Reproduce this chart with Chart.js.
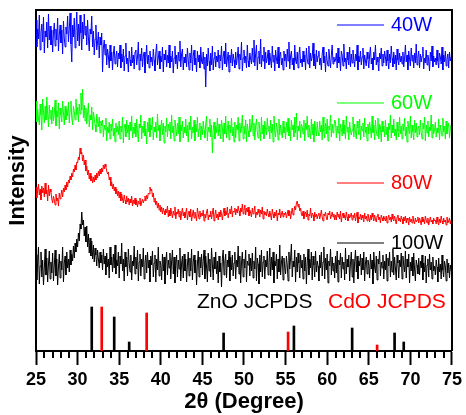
<!DOCTYPE html>
<html><head><meta charset="utf-8">
<script src="https://cdn.jsdelivr.net/npm/chart.js@4/dist/chart.umd.min.js"></script>
<style>html,body{margin:0;padding:0;background:#fff}</style>
</head><body>
<canvas id="c" width="466" height="415"></canvas>
<script>
// 2theta grid: 25..75 in 0.1 degree steps
const START_ANGLE = 25, STEP = 0.1;
const seriesLabels = ['40W', '60W', '80W', '100W'];
const seriesColors = ['#0000ff', '#00ff00', '#ff0000', '#000000'];

// intensities (offset, arbitrary units)
const int40W = [
331,304,322,312,336,301,318,327,309,334,298,320,314,329,303,337,311,325,306,321,
299,318,328,305,322,311,333,300,316,326,308,321,297,330,313,304,324,317,335,309,
322,338,307,289,326,314,333,303,320,339,310,327,305,336,318,301,329,312,337,316,
325,306,331,313,300,322,317,335,304,320,296,312,326,301,309,319,293,314,306,318,
279,303,311,296,307,286,302,295,283,306,290,299,281,297,305,287,294,300,284,298,
292,306,283,297,289,302,280,295,308,287,293,279,300,291,285,304,288,296,282,299,
301,286,294,309,281,297,290,303,284,295,299,278,292,306,287,296,283,300,289,294,
285,302,291,280,298,307,286,293,300,282,295,289,304,279,297,291,301,284,296,288,
306,283,295,289,300,278,293,305,287,296,282,299,290,310,284,297,302,281,294,288,
297,284,303,291,281,298,288,306,280,295,301,286,293,279,300,289,296,283,304,290,
287,299,282,294,264,297,285,303,290,280,298,286,305,281,293,299,284,295,289,301,
283,296,290,305,281,294,300,287,308,284,292,299,279,296,288,302,285,297,291,283,
299,286,294,304,282,297,291,309,280,293,301,288,295,283,306,290,284,298,292,287,
303,289,311,285,297,306,281,294,300,287,312,284,296,290,304,282,299,288,293,301,
286,298,291,283,305,289,296,280,301,292,287,304,283,295,299,286,293,281,300,290,
297,284,302,290,309,282,295,300,286,293,281,306,291,287,299,283,296,304,288,292,
284,300,289,296,281,303,292,287,305,283,298,290,294,308,285,297,282,301,289,295,
300,286,293,281,297,304,288,295,279,299,290,285,302,292,283,296,306,287,294,289,
291,298,283,303,288,294,280,300,296,285,307,289,293,282,299,291,286,304,284,297,
288,301,292,284,297,290,306,281,295,289,300,286,294,303,282,296,290,285,299,292,
283,296,304,287,293,281,299,291,306,286,294,289,280,298,292,303,285,297,288,300,
294,285,301,290,282,297,288,305,293,284,299,287,296,281,302,291,286,298,289,295,
287,299,284,293,306,289,296,281,300,292,285,303,290,296,283,298,288,307,286,294,
300,283,297,289,295,304,282,293,288,301,286,296,291,280,299,290,305,284,295,289,
293,286,301,290,283,298,294,287,304,281,296,289,300,285,292,297,283,299,290,294,
291];
const int60W = [
250,229,242,233,226,247,236,221,252,239,228,245,231,254,237,224,246,232,241,227,
244,230,237,251,225,240,234,248,222,243,236,229,250,238,226,245,231,242,235,249,
228,241,250,233,226,245,239,231,252,236,244,229,247,237,258,241,262,233,246,230,
243,227,238,248,224,236,231,244,221,239,233,226,219,237,229,224,234,218,230,225,
231,214,226,221,233,210,224,218,229,212,227,220,232,215,223,209,228,219,225,216,
230,212,225,219,234,208,223,227,214,231,218,226,211,229,220,235,213,224,217,228,
214,232,220,209,227,223,236,212,225,218,230,215,222,207,229,219,233,214,226,221,
234,211,224,219,229,213,237,220,226,210,223,231,216,228,208,225,219,233,214,227,
220,229,212,236,218,225,210,231,223,215,228,217,234,209,226,220,230,213,224,218,
232,215,226,209,229,221,235,212,224,218,231,210,227,219,234,214,222,228,211,225,
216,230,221,213,227,235,210,224,219,232,214,226,198,221,229,212,225,218,233,215,
227,219,212,231,224,209,228,217,235,213,222,230,211,226,218,233,215,224,209,229,
213,226,221,234,210,228,218,223,236,212,225,217,231,209,227,220,214,232,219,224,
236,215,228,211,225,232,219,213,229,222,210,234,217,226,212,230,221,216,233,220,
225,212,231,218,227,209,235,220,214,228,223,211,232,216,226,219,213,230,218,224,
212,229,219,233,215,224,210,231,221,226,214,234,218,238,211,225,220,230,213,227,
224,217,231,210,228,221,235,214,226,219,212,232,216,227,209,230,222,215,229,218,
215,230,219,226,211,234,220,213,228,217,232,210,225,221,236,214,227,218,223,231,
229,213,225,218,233,210,227,222,215,231,217,226,212,235,219,224,211,229,220,216,
221,234,214,227,219,212,230,223,216,232,211,225,220,228,214,233,218,224,210,227,
217,229,222,213,235,218,226,211,231,220,215,233,212,227,224,209,230,219,225,214,
231,216,224,210,228,221,236,213,226,218,232,215,222,211,229,220,214,234,217,225,
212,227,220,233,215,224,209,230,222,217,235,213,226,219,211,231,218,228,214,223,
225,216,231,219,212,228,222,234,210,226,218,230,214,224,220,236,213,227,217,221,
229,214,223,218,232,211,226,220,215,233,219,225,212,230,217,224,228,213,222,226,
220];
const int80W = [
164,153,160,167,156,162,151,165,158,163,154,168,157,161,150,166,155,162,159,152,
148,155,151,146,157,150,153,145,158,152,156,161,154,163,159,166,161,169,164,171,
168,175,171,178,174,182,179,186,181,189,188,194,191,203,197,199,190,196,186,191,
180,185,176,181,172,178,170,175,168,174,169,176,171,178,173,180,175,182,177,183,
179,186,182,187,184,180,177,179,171,174,165,169,162,167,160,164,157,162,155,160,
153,159,150,157,152,148,156,151,147,155,149,153,146,152,148,155,145,151,147,153,
146,151,144,150,147,153,145,149,152,148,151,155,150,156,152,158,157,164,160,162,
154,158,149,153,146,150,143,148,141,146,139,144,137,143,140,136,142,138,145,134,
141,135,143,138,133,140,136,144,132,139,137,142,134,140,131,138,143,135,139,133,
138,143,131,137,140,134,142,130,136,141,133,139,135,130,143,137,132,140,134,138,
135,141,130,137,133,139,142,131,136,134,140,132,138,143,130,136,141,133,137,131,
139,134,141,137,131,138,143,135,140,136,144,133,138,142,137,145,134,140,139,143,
136,142,138,145,140,135,143,139,147,137,141,146,136,143,139,144,135,141,138,134,
143,137,140,145,133,139,136,142,138,134,141,137,144,132,140,136,139,135,142,137,
134,140,136,131,142,137,133,139,135,141,130,138,136,142,133,137,140,134,138,136,
139,133,137,141,135,140,132,138,143,136,139,145,141,148,150,144,147,140,143,137,
135,140,132,137,139,134,141,131,137,135,143,133,138,136,130,139,134,137,132,136,
138,132,136,141,134,130,137,135,139,133,131,138,136,140,132,135,139,134,137,131,
136,131,139,134,137,132,140,129,135,138,133,136,131,139,134,130,137,133,135,138,
131,136,133,138,130,135,139,128,134,132,137,131,136,133,129,138,132,135,130,137,
133,129,136,131,138,134,130,136,132,129,135,137,131,134,128,136,133,130,135,132,
130,135,128,133,136,131,134,129,137,132,130,135,131,127,134,136,130,133,129,135,
132,127,134,130,135,128,133,131,126,134,129,132,128,135,130,127,133,129,131,134,
128,133,130,126,134,129,132,127,135,131,128,133,126,130,134,129,131,127,133,130,
131,127,134,129,126,132,128,135,130,127,133,129,131,126,134,128,130,133,127,131,
129];
const int100W = [
96,71,88,104,67,85,99,74,91,66,83,102,76,93,69,87,100,72,89,78,
98,70,86,101,75,92,66,84,97,73,90,81,104,69,88,95,76,99,83,92,
79,101,86,97,90,105,93,108,99,112,104,118,110,127,122,139,126,131,115,124,
109,125,104,117,98,113,95,110,92,106,89,103,96,85,101,92,83,99,88,96,
81,102,87,95,76,98,84,92,73,104,86,94,79,97,83,106,77,91,85,99,
73,95,87,108,80,92,70,99,84,94,75,102,88,79,96,71,90,85,105,77,
94,82,101,70,89,97,75,92,84,103,72,88,96,78,99,83,91,69,95,86,
100,74,88,96,69,92,81,104,75,90,86,71,97,80,94,67,89,99,76,91,
83,98,72,90,101,77,94,68,87,96,74,91,82,103,70,88,95,73,97,80,
92,69,86,99,75,93,80,102,71,89,96,78,91,66,87,100,74,94,83,97,
76,90,101,72,95,84,69,98,80,92,74,103,87,71,94,82,99,77,90,68,
95,79,88,64,93,101,76,89,97,73,91,84,100,70,94,81,96,75,88,99,
72,91,84,105,77,95,68,88,99,74,92,83,101,69,90,86,97,75,93,80,
98,73,90,82,104,70,93,87,67,96,79,101,74,89,95,72,91,84,100,76,
88,103,75,94,81,99,68,90,85,97,72,92,79,106,76,89,95,71,93,84,
77,95,86,70,99,82,93,107,74,90,84,101,69,94,79,98,88,73,96,83,
91,72,97,80,94,67,88,102,76,92,83,99,71,95,86,74,100,79,90,85,
70,96,83,99,75,89,104,72,93,81,97,68,90,85,102,76,94,80,88,73,
95,78,100,69,91,86,98,73,94,82,89,71,103,77,92,84,96,70,88,99,
74,92,68,89,101,79,95,72,90,85,97,76,93,81,99,70,88,94,77,91,
86,73,97,82,91,67,99,84,78,95,71,92,87,100,75,89,83,96,72,90,
81,97,70,93,85,99,74,90,79,102,76,94,83,71,96,88,73,91,84,98,
72,95,86,79,100,73,92,84,97,68,89,80,94,75,98,82,70,91,86,77,
93,76,90,83,96,71,88,79,95,68,86,92,74,97,81,89,72,94,80,85,
76,91,84,69,93,79,87,72,96,81,74,90,85,70,92,78,88,73,86,80,
82];

// reference patterns (stick positions and heights)
const znoPos = [31.7, 34.4, 36.2, 47.55, 56.0, 63.0, 68.1, 69.2];
const znoInt = [44, 34, 9, 18, 25, 23, 18, 9];
const cdoPos = [32.9, 38.3, 55.3, 66.0];
const cdoInt = [44, 38, 19, 6];

const xMajorTicks = [25, 30, 35, 40, 45, 50, 55, 60, 65, 70, 75];

const toXY = arr => arr.map((v, i) => ({ x: START_ANGLE + i * STEP, y: v }));
const toSticks = (pos, h) => pos.map((p, i) => ({ x: p, y: h[i] }));
const allSeries = [int40W, int60W, int80W, int100W];

const FONT = 'Arial, "Liberation Sans", sans-serif';

const lineSets = allSeries.map((arr, k) => ({
  type: 'line', label: seriesLabels[k], data: toXY(arr),
  borderColor: seriesColors[k], borderWidth: 1, pointRadius: 0, tension: 0
}));

const stickSets = [
  { type: 'bar', label: 'ZnO JCPDS', data: toSticks(znoPos, znoInt), backgroundColor: '#000', barThickness: 2, grouped: false },
  { type: 'bar', label: 'CdO JCPDS', data: toSticks(cdoPos, cdoInt), backgroundColor: '#ff0000', barThickness: 2, grouped: false }
];

const overlay = {
  id: 'overlay',
  afterDraw(chart) {
    const ctx = chart.ctx, a = chart.chartArea, xs = chart.scales.x;
    ctx.save();
    ctx.strokeStyle = '#000'; ctx.lineWidth = 2;
    ctx.beginPath();
    ctx.moveTo(a.left, a.top); ctx.lineTo(a.right, a.top); ctx.lineTo(a.right, a.bottom);
    ctx.stroke();
    // short minor ticks
    ctx.lineWidth = 2;
    for (let v = 25; v <= 75; v++) {
      if (xMajorTicks.includes(v)) continue;
      const px = Math.round(xs.getPixelForValue(v));
      ctx.beginPath(); ctx.moveTo(px, a.bottom); ctx.lineTo(px, a.bottom + 7); ctx.stroke();
    }
    // legend entries placed next to curves
    const rows = [25, 103, 183, 243];
    ctx.font = '20px ' + FONT; ctx.textBaseline = 'middle'; ctx.textAlign = 'left';
    rows.forEach((y, k) => {
      ctx.strokeStyle = seriesColors[k]; ctx.lineWidth = 1.2;
      ctx.beginPath(); ctx.moveTo(337, y); ctx.lineTo(384, y); ctx.stroke();
      ctx.fillStyle = seriesColors[k];
      ctx.fillText(seriesLabels[k], 391, y);
    });
    ctx.font = '21px ' + FONT;
    ctx.fillStyle = '#000'; ctx.fillText('ZnO JCPDS', 197, 302);
    ctx.fillStyle = '#ff0000'; ctx.fillText('CdO JCPDS', 328, 302);
    ctx.restore();
  }
};

new Chart(document.getElementById('c'), {
  type: 'line',
  data: { datasets: [...lineSets, ...stickSets] },
  options: {
    responsive: false, animation: false, devicePixelRatio: 1,
    layout: { padding: { top: 10, right: 14, left: 0, bottom: 0 } },
    plugins: { legend: { display: false }, tooltip: { enabled: false } },
    scales: {
      x: {
        type: 'linear', min: 25, max: 75, offset: false,
        afterFit: s => { s.height = 64; },
        ticks: { stepSize: 1, autoSkip: false, maxRotation: 0, padding: 4, color: '#000',
          font: { family: FONT, size: 18, weight: 'bold' },
          callback: v => (v % 5 === 0 ? String(v) : '') },
        grid: { drawOnChartArea: false, drawTicks: true, tickLength: 14, tickWidth: 2, offset: false,
          tickColor: c => (c.tick && c.tick.value % 5 === 0 ? '#000' : 'rgba(0,0,0,0)') },
        border: { display: true, color: '#000', width: 2 },
        title: { display: true, text: '2θ (Degree)', color: '#000', padding: { top: 0, bottom: 0 },
          font: { family: FONT, size: 22, weight: 'bold' } }
      },
      y: {
        type: 'linear', min: 0, max: 341,
        afterFit: s => { s.width = 36; },
        ticks: { display: false },
        grid: { display: false, drawTicks: false },
        border: { display: true, color: '#000', width: 2 },
        title: { display: true, text: 'Intensity', color: '#000', padding: { top: 5, bottom: 0 },
          font: { family: FONT, size: 22, weight: 'bold' } }
      }
    }
  },
  plugins: [overlay]
});
</script>
</body></html>
